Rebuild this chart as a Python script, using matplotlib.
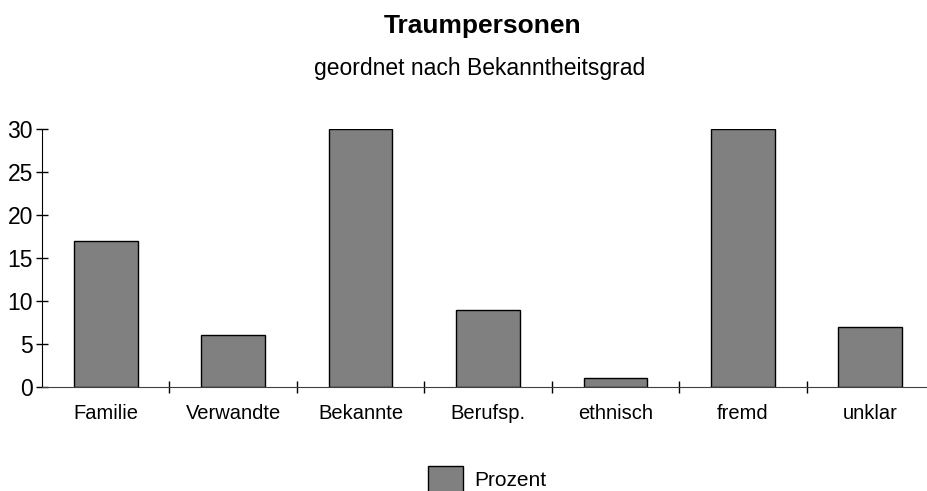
import numpy as np
import matplotlib.pyplot as plt

# Daten
kategorien = ['Familie', 'Verwandte', 'Bekannte', 'Berufsp.', 'ethnisch', 'fremd', 'unklar']
prozent = [17, 6, 30, 9, 1, 30, 7]

schrift = 'Liberation Sans'

fig = plt.figure(figsize=(9.27, 4.91), dpi=100)
ax = fig.add_axes([42 / 927, 1 - 387 / 491, 892 / 927, (387 - 129) / 491])

x = np.arange(len(kategorien))
ax.bar(x, prozent, width=0.5, color='#808080', edgecolor='black', linewidth=1, label='Prozent')

ax.set_xlim(-0.5, len(kategorien) - 0.5)
ax.set_ylim(0, 30)
ax.set_yticks(range(0, 31, 5))
ax.set_xticks(x)
ax.set_xticklabels(kategorien, fontfamily=schrift, fontsize=14.5)
ax.set_xticks(x[:-1] + 0.5, minor=True)
ax.tick_params(axis='x', which='major', length=0, pad=12)
ax.tick_params(axis='x', which='minor', direction='inout', length=9, width=1)
ax.tick_params(axis='y', direction='inout', length=9, width=1, pad=2)
for lab in ax.get_yticklabels():
    lab.set_fontfamily(schrift)
    lab.set_fontsize(16.5)

ax.spines['top'].set_visible(False)
ax.spines['right'].set_visible(False)
ax.spines['bottom'].set_color('#404040')

fig.text(483 / 927, 1 - 26 / 491, 'Traumpersonen', ha='center', va='center',
         fontsize=19, fontweight='bold', fontfamily=schrift)
fig.text(480 / 927, 1 - 69 / 491, 'geordnet nach Bekanntheitsgrad', ha='center', va='center',
         fontsize=16.5, fontfamily=schrift)

fig.legend(loc='center', bbox_to_anchor=(487 / 927, 1 - 479 / 491), frameon=False,
           prop={'family': schrift, 'size': 15}, handlelength=1.7, handleheight=1.5,
           handletextpad=0.5)

fig.savefig('out.png', dpi=100)
